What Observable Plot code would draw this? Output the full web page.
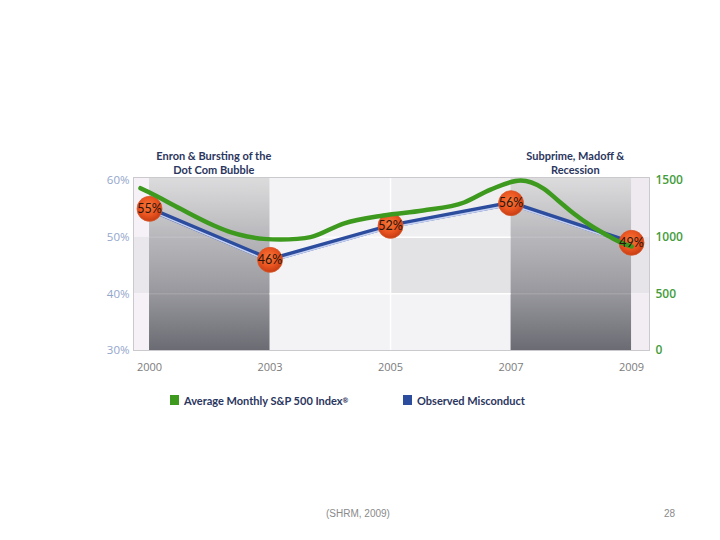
<!DOCTYPE html>
<html>
<head>
<meta charset="utf-8">
<script src="https://cdn.jsdelivr.net/npm/d3@7"></script>
<script src="https://cdn.jsdelivr.net/npm/@observablehq/plot@0.6"></script>
<style>
  html, body { margin: 0; padding: 0; background: #fff; }
  body { width: 720px; height: 540px; position: relative; overflow: hidden; }
  #chart { position: absolute; left: 0; top: 0; }
  .leg { position: absolute; top: 392px; height: 16px; display: flex; align-items: center;
         font-family: Lato, "Open Sans", sans-serif; font-weight: bold;
         font-size: 11px; color: #2b3660; white-space: nowrap; }
  .leg .sw { width: 9px; height: 10px; margin-right: 5px; display: inline-block; }
  .leg sup { font-size: 7px; vertical-align: 5px; }
  .foot { position: absolute; top: 508px; font-family: "Liberation Sans", Arial, sans-serif;
          font-size: 10px; color: #8a8a8a; white-space: nowrap; }
</style>
</head>
<body>
<div id="chart"></div>
<div class="leg" id="leg1" style="left:170px"></div>
<div class="leg" id="leg2" style="left:403px"></div>
<div class="foot" style="left:326px">(SHRM, 2009)</div>
<div class="foot" style="left:664px">28</div>
<script>
// ---------- data ----------
const years = ["2000", "2003", "2005", "2007", "2009"];
const misconduct = [55, 46, 52, 56, 49];               // Observed Misconduct (%)
// Average Monthly S&P 500 Index, read along the year axis (position in year-slot units)
const spPos    = [-0.075, 0, 0.257, 0.534, 0.672, 0.811, 0.949, 1.087, 1.226, 1.336, 1.61, 1.94, 2.27, 2.61, 2.83, 3.08, 3.27, 3.39, 3.52, 3.66, 3.80, 3.91, 4.0];
const spValues = [1432, 1394, 1250, 1103, 1044, 1006, 985, 979, 985, 1000, 1120, 1191, 1235, 1306, 1420, 1500, 1429, 1324, 1209, 1103, 1015, 953, 918];
const pctTicks = [30, 40, 50, 60];
const spTicks = [0, 500, 1000, 1500];
const eraLabels = ["Enron & Bursting of the\nDot Com Bubble", "Subprime, Madoff &\nRecession"];
const eraSlots = [[0, 1], [3, 4]];
const seriesNames = ["Average Monthly S&P 500 Index", "Observed Misconduct"];

// ---------- derived ----------
const pMin = pctTicks[0], pMax = pctTicks[pctTicks.length - 1];
const sMin = spTicks[0], sMax = spTicks[spTicks.length - 1];
const spToPct = v => pMin + (v - sMin) / (sMax - sMin) * (pMax - pMin);
const misc = years.map((y, i) => ({i, v: misconduct[i]}));
const sp = spPos.map((p, k) => ({p, v: spValues[k]}));
const eras = eraLabels.map((label, k) => ({label, c: (eraSlots[k][0] + eraSlots[k][1]) / 2}));

const X0 = -0.133, X1 = 4.149, YTOP = 60.53;

const green = "#3d9a1f", blue = "#2c4c9e";
const sans = 'Lato, "Open Sans", sans-serif';

const bands = [
  // side margins
  {x1: X0, x2: 0, y1: 50, y2: YTOP, fill: "#f6f1f6"},
  {x1: X0, x2: 0, y1: 40, y2: 50, fill: "#eae7ec"},
  {x1: X0, x2: 0, y1: 30, y2: 40, fill: "#f6f1f6"},
  {x1: 4, x2: X1, y1: 50, y2: YTOP, fill: "#eeeaf0"},
  {x1: 4, x2: X1, y1: 40, y2: 50, fill: "#e6e3e9"},
  {x1: 4, x2: X1, y1: 30, y2: 40, fill: "#f1edf2"},
  // light middle
  {x1: 1, x2: 2, y1: 30, y2: YTOP, fill: "#f3f3f5"},
  {x1: 2, x2: 3, y1: 50, y2: YTOP, fill: "#efeff1"},
  {x1: 2, x2: 3, y1: 40, y2: 50, fill: "#e3e3e5"},
  {x1: 2, x2: 3, y1: 30, y2: 40, fill: "#f3f3f5"},
  // dark era bands
  {x1: 0, x2: 1, y1: 30, y2: YTOP, fill: "url(#darkband)"},
  {x1: 3, x2: 4, y1: 30, y2: YTOP, fill: "url(#darkband)"}
];

const plot = Plot.plot({
  width: 720,
  height: 380,
  marginLeft: 133,
  marginRight: 71,
  marginTop: 177,
  marginBottom: 30,
  x: {domain: [X0, X1], axis: null},
  y: {domain: [pMin, YTOP], axis: null},
  style: {background: "transparent", fontFamily: '"Open Sans", sans-serif', overflow: "visible"},
  marks: [
    Plot.rect(bands, {x1: "x1", x2: "x2", y1: "y1", y2: "y2", fill: d => d.fill}),
    // gridlines
    Plot.ruleY([40, 50], {x1: 1, x2: 3, stroke: "#ffffff", strokeWidth: 1.5}),
    Plot.ruleY([40, 50], {x1: 0, x2: 1, stroke: "#ffffff", strokeOpacity: 0.18}),
    Plot.ruleY([40, 50], {x1: 3, x2: 4, stroke: "#ffffff", strokeOpacity: 0.18}),
    Plot.ruleX([2], {y1: 30, y2: YTOP, stroke: "#ffffff", strokeWidth: 1.5}),
    Plot.frame({stroke: "#cbc8ce"}),
    // axes
    Plot.axisX(years.map((y, i) => i), {tickSize: 0, tickPadding: 13, tickFormat: i => years[i],
      fontSize: 11, fill: "#7c7c7c"}),
    Plot.axisY(pctTicks, {anchor: "left", tickSize: 0, tickPadding: 4, tickFormat: d => d + "%",
      fontSize: 11.5, fill: "#93a6cc"}),
    Plot.axisY(spTicks.map(spToPct), {anchor: "right", tickSize: 0, tickPadding: 6,
      tickFormat: v => String(spTicks[spTicks.map(spToPct).indexOf(v)]),
      fontSize: 12, fontWeight: 600, fill: "#449c3c"}),
    // era annotations
    Plot.text(eras, {x: "c", y: YTOP, text: "label", dx: 4, dy: -4, lineAnchor: "bottom",
      lineHeight: 1.2, fontSize: 11, fontWeight: "bold", fill: "#2b3660", fontFamily: sans}),
    // observed misconduct
    Plot.line(misc, {x: "i", y: "v", stroke: blue, strokeWidth: 5}),
    Plot.line(misc, {x: "i", y: "v", stroke: "#c7d2f3", strokeWidth: 1.6, dy: 1.8}),
    Plot.dot(misc, {x: "i", y: "v", r: 12.5, fill: "url(#ball)", stroke: "#d9582a", strokeWidth: 0.8}),
    // S&P 500
    Plot.line(sp, {x: "p", y: d => spToPct(d.v), stroke: green, strokeWidth: 4.5, curve: "monotone-x"}),
    // labels
    Plot.text(misc, {x: "i", y: "v", text: d => d.v + "%", fontSize: 12.5, fill: "#2a150c", fontFamily: sans})
  ]
});

// gradients
const defs = d3.create("svg:defs");
const lg = defs.append("linearGradient").attr("id", "darkband").attr("x1", 0).attr("y1", 0).attr("x2", 0).attr("y2", 1);
[[0, "#dcdcdd"], [0.12, "#d0d0d2"], [0.35, "#b7b7bb"], [0.65, "#9a9aa0"], [1, "#6b6b73"]]
  .forEach(([o, c]) => lg.append("stop").attr("offset", o).attr("stop-color", c));
const rg = defs.append("radialGradient").attr("id", "ball").attr("cx", 0.45).attr("cy", 0.4).attr("r", 0.6);
[[0, "#f7783a"], [0.6, "#ea5420"], [1, "#c63d14"]]
  .forEach(([o, c]) => rg.append("stop").attr("offset", o).attr("stop-color", c));
plot.insertBefore(defs.node(), plot.firstChild);

document.getElementById("chart").appendChild(plot);

// legend
const legendColors = [green, blue];
["leg1", "leg2"].forEach((id, k) => {
  const el = document.getElementById(id);
  el.innerHTML = `<span class="sw" style="background:${legendColors[k]}"></span>${seriesNames[k]}` + (k === 0 ? "<sup>®</sup>" : "");
});
</script>
</body>
</html>
